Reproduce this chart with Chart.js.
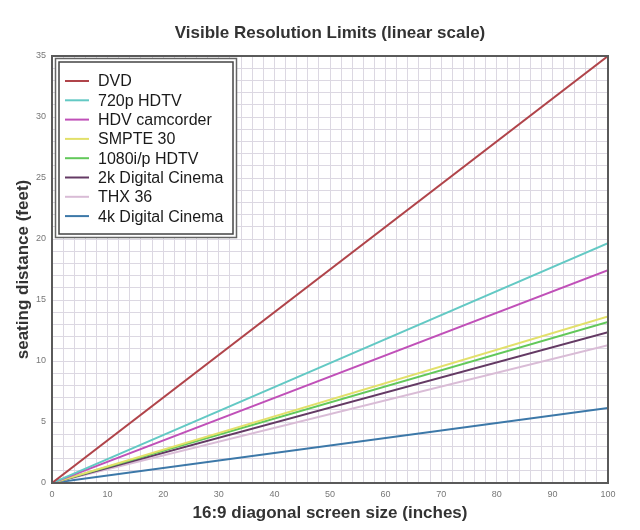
<!DOCTYPE html>
<html>
<head>
<meta charset="utf-8">
<script src="https://cdn.jsdelivr.net/npm/chart.js@4/dist/chart.umd.min.js"></script>
<style>
  html, body { margin: 0; padding: 0; background: #fff; }
  #wrap { width: 640px; height: 530px; }
</style>
</head>
<body>
<div id="wrap"><canvas id="resChart"></canvas></div>
<script>
// screen sizes (inches) where each line is sampled
const screenSizes = [0, 100];

// seating distance (feet) at 0" and 100"
const dvd = [0, 35];
const hdtv720 = [0, 19.65];
const hdvCamcorder = [0, 17.45];
const smpte30 = [0, 13.65];
const hdtv1080 = [0, 13.2];
const cinema2k = [0, 12.35];
const thx36 = [0, 11.3];
const cinema4k = [0, 6.15];

const seriesNames = ['DVD', '720p HDTV', 'HDV camcorder', 'SMPTE 30', '1080i/p HDTV', '2k Digital Cinema', 'THX 36', '4k Digital Cinema'];
const seriesValues = [dvd, hdtv720, hdvCamcorder, smpte30, hdtv1080, cinema2k, thx36, cinema4k];
const seriesColors = ['#b0444a', '#63c9c4', '#c050b8', '#e2e06a', '#62c85a', '#643a64', '#d9bcd6', '#3c78a8'];

const xLabelEvery = 10;
const yLabelEvery = 5;

const fontFamily = '"Liberation Sans", Arial, sans-serif';

const datasets = seriesNames.map((name, i) => ({
    label: name,
    data: screenSizes.map((x, j) => ({ x: x, y: seriesValues[i][j] })),
    borderColor: seriesColors[i],
    borderWidth: 2,
    pointRadius: 0,
    fill: false
}));

// legend box + plot frame drawn inside the chart area
const boxedLegend = {
    id: 'boxedLegend',
    afterDatasetsDraw(chart) {
        const { ctx, chartArea } = chart;
        ctx.save();
        // frame around plot
        ctx.strokeStyle = '#5a5a5a';
        ctx.lineWidth = 2;
        ctx.strokeRect(chartArea.left, chartArea.top, chartArea.right - chartArea.left, chartArea.bottom - chartArea.top);

        const x0 = chartArea.left + 3, y0 = chartArea.top + 2;
        const w = 182, h = 180;
        ctx.fillStyle = '#fff';
        ctx.fillRect(x0, y0, w, h);
        ctx.strokeStyle = '#666';
        ctx.lineWidth = 1.5;
        ctx.strokeRect(x0 + 0.5, y0 + 0.5, w - 1, h - 1);
        ctx.strokeStyle = '#444';
        ctx.strokeRect(x0 + 4, y0 + 4, w - 8, h - 8);

        ctx.font = '16px ' + fontFamily;
        ctx.textBaseline = 'middle';
        ctx.fillStyle = '#1a1a1a';
        chart.data.datasets.forEach((ds, i) => {
            const yy = y0 + 23 + i * 19.3;
            ctx.strokeStyle = ds.borderColor;
            ctx.lineWidth = 2;
            ctx.beginPath();
            ctx.moveTo(x0 + 10, yy);
            ctx.lineTo(x0 + 34, yy);
            ctx.stroke();
            ctx.fillText(ds.label, x0 + 43, yy + 1);
        });
        ctx.restore();
    }
};

new Chart(document.getElementById('resChart'), {
    type: 'line',
    data: { datasets: datasets },
    options: {
        responsive: true,
        maintainAspectRatio: false,
        animation: false,
        layout: { padding: { top: 0, right: 32, bottom: 4, left: 4 } },
        plugins: {
            legend: { display: false },
            tooltip: { enabled: false },
            title: {
                display: true,
                fullSize: false,
                text: 'Visible Resolution Limits (linear scale)',
                color: '#333',
                font: { family: fontFamily, size: 17, weight: 'bold' },
                padding: { top: 23, bottom: 12.6 }
            }
        },
        scales: {
            x: {
                type: 'linear',
                min: 0,
                max: 100,
                afterFit: s => { s.height = 43; },
                ticks: {
                    stepSize: 2,
                    autoSkip: false,
                    maxRotation: 0,
                    color: '#777',
                    font: { family: fontFamily, size: 9 },
                    padding: 6,
                    callback: v => (v % xLabelEvery === 0 ? v : '')
                },
                grid: { color: '#dcd8e2', drawTicks: false },
                border: { color: '#5a5a5a', width: 2 },
                title: {
                    display: true,
                    text: '16:9 diagonal screen size (inches)',
                    color: '#333',
                    font: { family: fontFamily, size: 17, weight: 'bold' },
                    padding: { top: 2, bottom: 2 }
                }
            },
            y: {
                type: 'linear',
                min: 0,
                max: 35,
                afterFit: s => { s.width = 48; },
                ticks: {
                    stepSize: 1,
                    autoSkip: false,
                    color: '#777',
                    font: { family: fontFamily, size: 9 },
                    padding: 6,
                    callback: v => (v % yLabelEvery === 0 ? v : '')
                },
                grid: { color: '#dcd8e2', drawTicks: false },
                border: { color: '#5a5a5a', width: 2 },
                title: {
                    display: true,
                    text: 'seating distance (feet)',
                    color: '#333',
                    font: { family: fontFamily, size: 17, weight: 'bold' },
                    padding: { top: 9.5, bottom: 0 }
                }
            }
        }
    },
    plugins: [boxedLegend]
});
</script>
</body>
</html>
